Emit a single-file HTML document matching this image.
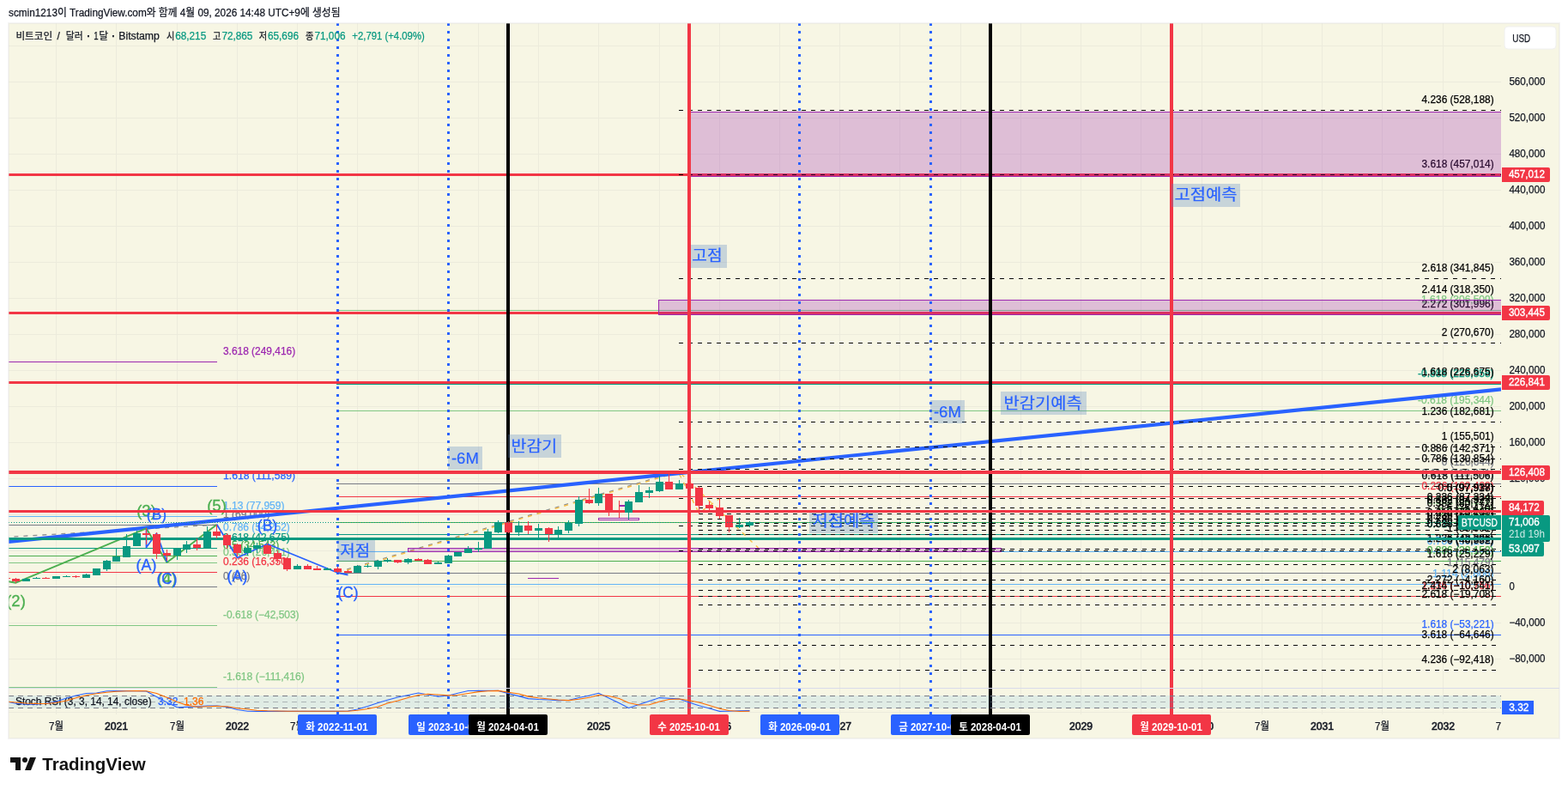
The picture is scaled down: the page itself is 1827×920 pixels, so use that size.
<!DOCTYPE html>
<html lang="ko"><head><meta charset="utf-8"><title>BTCUSD chart</title>
<style>
html,body{margin:0;padding:0;background:#fff;}
body{width:1827px;height:920px;overflow:hidden;}
svg{display:block;font-family:"Liberation Sans","Noto Sans CJK KR",sans-serif;}
svg text{white-space:pre;}
</style></head><body>
<svg width="1827" height="920" viewBox="0 0 1827 920">
<rect x="0" y="0" width="1827" height="920" fill="#ffffff"/>
<rect x="9" y="26" width="1809" height="835" fill="#f4f4f4"/>
<rect x="10" y="27" width="1807" height="833" fill="#f7f6e4"/>
<clipPath id="pane"><rect x="10" y="27" width="1739" height="804"/></clipPath>
<clipPath id="main"><rect x="10" y="27" width="1739" height="774"/></clipPath>
<g shape-rendering="crispEdges">
<rect x="65" y="27" width="1" height="805" fill="#ecebdc"/>
<rect x="135" y="27" width="1" height="805" fill="#ecebdc"/>
<rect x="206" y="27" width="1" height="805" fill="#ecebdc"/>
<rect x="276" y="27" width="1" height="805" fill="#ecebdc"/>
<rect x="346" y="27" width="1" height="805" fill="#ecebdc"/>
<rect x="416" y="27" width="1" height="805" fill="#ecebdc"/>
<rect x="487" y="27" width="1" height="805" fill="#ecebdc"/>
<rect x="557" y="27" width="1" height="805" fill="#ecebdc"/>
<rect x="627" y="27" width="1" height="805" fill="#ecebdc"/>
<rect x="697" y="27" width="1" height="805" fill="#ecebdc"/>
<rect x="768" y="27" width="1" height="805" fill="#ecebdc"/>
<rect x="838" y="27" width="1" height="805" fill="#ecebdc"/>
<rect x="908" y="27" width="1" height="805" fill="#ecebdc"/>
<rect x="978" y="27" width="1" height="805" fill="#ecebdc"/>
<rect x="1048" y="27" width="1" height="805" fill="#ecebdc"/>
<rect x="1119" y="27" width="1" height="805" fill="#ecebdc"/>
<rect x="1189" y="27" width="1" height="805" fill="#ecebdc"/>
<rect x="1259" y="27" width="1" height="805" fill="#ecebdc"/>
<rect x="1329" y="27" width="1" height="805" fill="#ecebdc"/>
<rect x="1400" y="27" width="1" height="805" fill="#ecebdc"/>
<rect x="1470" y="27" width="1" height="805" fill="#ecebdc"/>
<rect x="1540" y="27" width="1" height="805" fill="#ecebdc"/>
<rect x="1610" y="27" width="1" height="805" fill="#ecebdc"/>
<rect x="1681" y="27" width="1" height="805" fill="#ecebdc"/>
<rect x="10" y="767" width="1739" height="1" fill="#ecebdc"/>
<rect x="10" y="725" width="1739" height="1" fill="#ecebdc"/>
<rect x="10" y="683" width="1739" height="1" fill="#ecebdc"/>
<rect x="10" y="641" width="1739" height="1" fill="#ecebdc"/>
<rect x="10" y="599" width="1739" height="1" fill="#ecebdc"/>
<rect x="10" y="557" width="1739" height="1" fill="#ecebdc"/>
<rect x="10" y="515" width="1739" height="1" fill="#ecebdc"/>
<rect x="10" y="473" width="1739" height="1" fill="#ecebdc"/>
<rect x="10" y="431" width="1739" height="1" fill="#ecebdc"/>
<rect x="10" y="389" width="1739" height="1" fill="#ecebdc"/>
<rect x="10" y="347" width="1739" height="1" fill="#ecebdc"/>
<rect x="10" y="305" width="1739" height="1" fill="#ecebdc"/>
<rect x="10" y="263" width="1739" height="1" fill="#ecebdc"/>
<rect x="10" y="221" width="1739" height="1" fill="#ecebdc"/>
<rect x="10" y="179" width="1739" height="1" fill="#ecebdc"/>
<rect x="10" y="137" width="1739" height="1" fill="#ecebdc"/>
<rect x="10" y="95" width="1739" height="1" fill="#ecebdc"/>
<rect x="10" y="53" width="1739" height="1" fill="#ecebdc"/>
<rect x="10" y="829" width="1739" height="1" fill="#ecebdc"/>
</g>
<g clip-path="url(#main)">
<g shape-rendering="crispEdges">
<rect x="10" y="421" width="243" height="1" fill="#9c27b0"/>
<rect x="10" y="566" width="243" height="1" fill="#2962ff"/>
<rect x="10" y="601" width="243" height="1" fill="#64b5f6"/>
<rect x="10" y="611" width="243" height="1" fill="#787b86"/>
<rect x="10" y="626" width="243" height="1" fill="#64b5f6"/>
<rect x="10" y="638" width="243" height="1" fill="#089981"/>
<rect x="10" y="647" width="243" height="1" fill="#4caf50"/>
<rect x="10" y="655" width="243" height="1" fill="#81c784"/>
<rect x="10" y="666" width="243" height="1" fill="#f23645"/>
<rect x="10" y="683" width="243" height="1" fill="#787b86"/>
<rect x="10" y="728" width="243" height="1" fill="#81c784"/>
<rect x="10" y="800" width="243" height="1" fill="#81c784"/>
</g>
<text x="260" y="412.7" font-size="12" fill="#9c27b0" textLength="84.1" lengthAdjust="spacingAndGlyphs" stroke="#9c27b0" stroke-width="0.25">3.618 (249,416)</text>
<text x="260" y="557.7" font-size="12" fill="#2962ff" textLength="84.1" lengthAdjust="spacingAndGlyphs" stroke="#2962ff" stroke-width="0.25">1.618 (111,589)</text>
<text x="260" y="592.7" font-size="12" fill="#64b5f6" textLength="71.5" lengthAdjust="spacingAndGlyphs" stroke="#64b5f6" stroke-width="0.25">1.13 (77,959)</text>
<text x="260" y="602.7" font-size="12" fill="#787b86" textLength="54.6" lengthAdjust="spacingAndGlyphs" stroke="#787b86" stroke-width="0.25">1 (69,000)</text>
<text x="260" y="617.7" font-size="12" fill="#64b5f6" textLength="77.8" lengthAdjust="spacingAndGlyphs" stroke="#64b5f6" stroke-width="0.25">0.786 (54,252)</text>
<text x="260" y="629.7" font-size="12" fill="#089981" textLength="77.8" lengthAdjust="spacingAndGlyphs" stroke="#089981" stroke-width="0.25">0.618 (42,675)</text>
<text x="260" y="638.7" font-size="12" fill="#4caf50" textLength="65.2" lengthAdjust="spacingAndGlyphs" stroke="#4caf50" stroke-width="0.25">0.5 (34,543)</text>
<text x="260" y="646.7" font-size="12" fill="#81c784" textLength="77.8" lengthAdjust="spacingAndGlyphs" stroke="#81c784" stroke-width="0.25">0.382 (26,411)</text>
<text x="260" y="657.7" font-size="12" fill="#f23645" textLength="77.8" lengthAdjust="spacingAndGlyphs" stroke="#f23645" stroke-width="0.25">0.236 (16,350)</text>
<text x="260" y="674.7" font-size="12" fill="#787b86" textLength="31.3" lengthAdjust="spacingAndGlyphs" stroke="#787b86" stroke-width="0.25">0 (86)</text>
<text x="260" y="719.7" font-size="12" fill="#81c784" textLength="88.5" lengthAdjust="spacingAndGlyphs" stroke="#81c784" stroke-width="0.25">-0.618 (−42,503)</text>
<text x="260" y="791.7" font-size="12" fill="#81c784" textLength="94.8" lengthAdjust="spacingAndGlyphs" stroke="#81c784" stroke-width="0.25">-1.618 (−111,416)</text>
<line x1="10" y1="625.3" x2="252.5" y2="611.0799999999999" stroke="#787b86" stroke-opacity="0.85" stroke-width="1.3" stroke-dasharray="5 6" stroke-dashoffset="4.6"/>
<g shape-rendering="crispEdges">
<rect x="392" y="361" width="1357" height="1" fill="#81c784"/>
<rect x="392" y="447" width="1357" height="1" fill="#089981"/>
<rect x="392" y="478" width="1357" height="1" fill="#81c784"/>
<rect x="392" y="550" width="1357" height="1" fill="#787b86"/>
<rect x="392" y="563" width="1357" height="1" fill="#787b86"/>
<rect x="392" y="578" width="1357" height="1" fill="#f23645"/>
<rect x="392" y="595" width="1357" height="1" fill="#81c784"/>
<rect x="392" y="608" width="1357" height="1" fill="#4caf50"/>
<rect x="392" y="622" width="1357" height="1" fill="#089981"/>
<rect x="392" y="642" width="1357" height="1" fill="#64b5f6"/>
<rect x="392" y="653" width="1357" height="1" fill="#4caf50"/>
<rect x="392" y="667" width="1357" height="1" fill="#787b86"/>
<rect x="392" y="680" width="1357" height="1" fill="#64b5f6"/>
<rect x="392" y="694" width="1357" height="1" fill="#f23645"/>
<rect x="392" y="739" width="1357" height="1" fill="#2962ff"/>
</g>
<text x="1740.6" y="352.7" font-size="12" fill="#81c784" text-anchor="end" textLength="88.5" lengthAdjust="spacingAndGlyphs" stroke="#81c784" stroke-width="0.25">-1.618 (306,509)</text>
<text x="1740.6" y="438.7" font-size="12" fill="#089981" text-anchor="end" textLength="88.5" lengthAdjust="spacingAndGlyphs" stroke="#089981" stroke-width="0.25">-0.888 (225,358)</text>
<text x="1740.6" y="469.7" font-size="12" fill="#81c784" text-anchor="end" textLength="88.5" lengthAdjust="spacingAndGlyphs" stroke="#81c784" stroke-width="0.25">-0.618 (195,344)</text>
<text x="1740.6" y="541.7" font-size="12" fill="#787b86" text-anchor="end" textLength="60.8" lengthAdjust="spacingAndGlyphs" stroke="#787b86" stroke-width="0.25">0 (126,644)</text>
<text x="1740.6" y="554.7" font-size="12" fill="#787b86" text-anchor="end" textLength="84.1" lengthAdjust="spacingAndGlyphs" stroke="#787b86" stroke-width="0.25">0.114 (113,971)</text>
<text x="1740.6" y="569.7" font-size="12" fill="#f23645" text-anchor="end" textLength="84.1" lengthAdjust="spacingAndGlyphs" stroke="#f23645" stroke-width="0.25">0.236 (100,409)</text>
<text x="1740.6" y="586.7" font-size="12" fill="#81c784" text-anchor="end" textLength="77.8" lengthAdjust="spacingAndGlyphs" stroke="#81c784" stroke-width="0.25">0.382 (84,179)</text>
<text x="1740.6" y="599.7" font-size="12" fill="#4caf50" text-anchor="end" textLength="65.2" lengthAdjust="spacingAndGlyphs" stroke="#4caf50" stroke-width="0.25">0.5 (71,062)</text>
<text x="1740.6" y="613.7" font-size="12" fill="#089981" text-anchor="end" textLength="77.8" lengthAdjust="spacingAndGlyphs" stroke="#089981" stroke-width="0.25">0.618 (57,944)</text>
<text x="1740.6" y="633.7" font-size="12" fill="#64b5f6" text-anchor="end" textLength="77.8" lengthAdjust="spacingAndGlyphs" stroke="#64b5f6" stroke-width="0.25">0.786 (39,268)</text>
<text x="1740.6" y="644.7" font-size="12" fill="#4caf50" text-anchor="end" textLength="77.8" lengthAdjust="spacingAndGlyphs" stroke="#4caf50" stroke-width="0.25">0.886 (28,152)</text>
<text x="1740.6" y="658.7" font-size="12" fill="#787b86" text-anchor="end" textLength="54.6" lengthAdjust="spacingAndGlyphs" stroke="#787b86" stroke-width="0.25">1 (15,479)</text>
<text x="1740.6" y="671.7" font-size="12" fill="#64b5f6" text-anchor="end" textLength="71.5" lengthAdjust="spacingAndGlyphs" stroke="#64b5f6" stroke-width="0.25">1.114 (2,806)</text>
<text x="1740.6" y="685.7" font-size="12" fill="#f23645" text-anchor="end" textLength="84.1" lengthAdjust="spacingAndGlyphs" stroke="#f23645" stroke-width="0.25">1.236 (−10,756)</text>
<text x="1740.6" y="730.7" font-size="12" fill="#2962ff" text-anchor="end" textLength="84.1" lengthAdjust="spacingAndGlyphs" stroke="#2962ff" stroke-width="0.25">1.618 (−53,221)</text>
<line x1="393.5" y1="666.2" x2="791.5" y2="548.4" stroke="#787b86" stroke-opacity="0.85" stroke-width="1.3" stroke-dasharray="5 6"/>
<text x="1740.6" y="632.7" font-size="12" fill="#000000" text-anchor="end" textLength="54.6" lengthAdjust="spacingAndGlyphs" stroke="#000000" stroke-width="0.25">0 (40,332)</text>
<text x="1740.6" y="603.7" font-size="12" fill="#000000" text-anchor="end" textLength="77.8" lengthAdjust="spacingAndGlyphs" stroke="#000000" stroke-width="0.25">0.236 (67,512)</text>
<text x="1740.6" y="585.7" font-size="12" fill="#000000" text-anchor="end" textLength="77.8" lengthAdjust="spacingAndGlyphs" stroke="#000000" stroke-width="0.25">0.382 (84,327)</text>
<text x="1740.6" y="571.7" font-size="12" fill="#000000" text-anchor="end" textLength="65.2" lengthAdjust="spacingAndGlyphs" stroke="#000000" stroke-width="0.25">0.5 (97,917)</text>
<text x="1740.6" y="557.7" font-size="12" fill="#000000" text-anchor="end" textLength="84.1" lengthAdjust="spacingAndGlyphs" stroke="#000000" stroke-width="0.25">0.618 (111,506)</text>
<text x="1740.6" y="537.7" font-size="12" fill="#000000" text-anchor="end" textLength="84.1" lengthAdjust="spacingAndGlyphs" stroke="#000000" stroke-width="0.25">0.786 (130,854)</text>
<text x="1740.6" y="525.7" font-size="12" fill="#000000" text-anchor="end" textLength="84.1" lengthAdjust="spacingAndGlyphs" stroke="#000000" stroke-width="0.25">0.886 (142,371)</text>
<text x="1740.6" y="511.7" font-size="12" fill="#000000" text-anchor="end" textLength="60.8" lengthAdjust="spacingAndGlyphs" stroke="#000000" stroke-width="0.25">1 (155,501)</text>
<text x="1740.6" y="482.7" font-size="12" fill="#000000" text-anchor="end" textLength="84.1" lengthAdjust="spacingAndGlyphs" stroke="#000000" stroke-width="0.25">1.236 (182,681)</text>
<text x="1740.6" y="436.7" font-size="12" fill="#000000" text-anchor="end" textLength="84.1" lengthAdjust="spacingAndGlyphs" stroke="#000000" stroke-width="0.25">1.618 (226,675)</text>
<text x="1740.6" y="390.7" font-size="12" fill="#000000" text-anchor="end" textLength="60.8" lengthAdjust="spacingAndGlyphs" stroke="#000000" stroke-width="0.25">2 (270,670)</text>
<text x="1740.6" y="357.7" font-size="12" fill="#000000" text-anchor="end" textLength="84.1" lengthAdjust="spacingAndGlyphs" stroke="#000000" stroke-width="0.25">2.272 (301,996)</text>
<text x="1740.6" y="340.7" font-size="12" fill="#000000" text-anchor="end" textLength="84.1" lengthAdjust="spacingAndGlyphs" stroke="#000000" stroke-width="0.25">2.414 (318,350)</text>
<text x="1740.6" y="315.7" font-size="12" fill="#000000" text-anchor="end" textLength="84.1" lengthAdjust="spacingAndGlyphs" stroke="#000000" stroke-width="0.25">2.618 (341,845)</text>
<text x="1740.6" y="194.7" font-size="12" fill="#000000" text-anchor="end" textLength="84.1" lengthAdjust="spacingAndGlyphs" stroke="#000000" stroke-width="0.25">3.618 (457,014)</text>
<text x="1740.6" y="119.7" font-size="12" fill="#000000" text-anchor="end" textLength="84.1" lengthAdjust="spacingAndGlyphs" stroke="#000000" stroke-width="0.25">4.236 (528,188)</text>
<text x="1740.6" y="571.7" font-size="12" fill="#000000" text-anchor="end" textLength="54.6" lengthAdjust="spacingAndGlyphs" stroke="#000000" stroke-width="0.25">0 (97,938)</text>
<text x="1740.6" y="582.7" font-size="12" fill="#000000" text-anchor="end" textLength="77.8" lengthAdjust="spacingAndGlyphs" stroke="#000000" stroke-width="0.25">0.236 (87,334)</text>
<text x="1740.6" y="589.7" font-size="12" fill="#000000" text-anchor="end" textLength="77.8" lengthAdjust="spacingAndGlyphs" stroke="#000000" stroke-width="0.25">0.382 (80,772)</text>
<text x="1740.6" y="595.7" font-size="12" fill="#000000" text-anchor="end" textLength="65.2" lengthAdjust="spacingAndGlyphs" stroke="#000000" stroke-width="0.25">0.5 (75,470)</text>
<text x="1740.6" y="600.7" font-size="12" fill="#000000" text-anchor="end" textLength="77.8" lengthAdjust="spacingAndGlyphs" stroke="#000000" stroke-width="0.25">0.618 (70,167)</text>
<text x="1740.6" y="608.7" font-size="12" fill="#000000" text-anchor="end" textLength="77.8" lengthAdjust="spacingAndGlyphs" stroke="#000000" stroke-width="0.25">0.786 (62,618)</text>
<text x="1740.6" y="613.7" font-size="12" fill="#000000" text-anchor="end" textLength="77.8" lengthAdjust="spacingAndGlyphs" stroke="#000000" stroke-width="0.25">0.886 (58,124)</text>
<text x="1740.6" y="618.7" font-size="12" fill="#000000" text-anchor="end" textLength="54.6" lengthAdjust="spacingAndGlyphs" stroke="#000000" stroke-width="0.25">1 (53,001)</text>
<text x="1740.6" y="630.7" font-size="12" fill="#000000" text-anchor="end" textLength="77.8" lengthAdjust="spacingAndGlyphs" stroke="#000000" stroke-width="0.25">1.236 (42,396)</text>
<text x="1740.6" y="648.7" font-size="12" fill="#000000" text-anchor="end" textLength="77.8" lengthAdjust="spacingAndGlyphs" stroke="#000000" stroke-width="0.25">1.618 (25,229)</text>
<text x="1740.6" y="666.7" font-size="12" fill="#000000" text-anchor="end" textLength="48.3" lengthAdjust="spacingAndGlyphs" stroke="#000000" stroke-width="0.25">2 (8,063)</text>
<text x="1740.6" y="678.7" font-size="12" fill="#000000" text-anchor="end" textLength="77.8" lengthAdjust="spacingAndGlyphs" stroke="#000000" stroke-width="0.25">2.272 (−4,160)</text>
<text x="1740.6" y="685.7" font-size="12" fill="#000000" text-anchor="end" textLength="84.1" lengthAdjust="spacingAndGlyphs" stroke="#000000" stroke-width="0.25">2.414 (−10,541)</text>
<text x="1740.6" y="695.7" font-size="12" fill="#000000" text-anchor="end" textLength="84.1" lengthAdjust="spacingAndGlyphs" stroke="#000000" stroke-width="0.25">2.618 (−19,708)</text>
<text x="1740.6" y="742.7" font-size="12" fill="#000000" text-anchor="end" textLength="84.1" lengthAdjust="spacingAndGlyphs" stroke="#000000" stroke-width="0.25">3.618 (−64,646)</text>
<text x="1740.6" y="771.7" font-size="12" fill="#000000" text-anchor="end" textLength="84.1" lengthAdjust="spacingAndGlyphs" stroke="#000000" stroke-width="0.25">4.236 (−92,418)</text>
<polyline points="393.5,667.2 791.5,549.6 885.5,640" fill="none" stroke="#f9bf45" stroke-width="1.4" stroke-dasharray="5 6"/>
<polyline points="791.5,552 814.5,597.5 838.5,580.5" fill="none" stroke="#f9bf45" stroke-width="1.4" stroke-dasharray="5 6"/>
<line x1="10" y1="630.9" x2="1749" y2="453.4" stroke="#2962ff" stroke-width="4.2"/>
<polyline points="10,677.2 18.5,678.7 170.5,615.4 194.5,655 252.5,611" fill="none" stroke="#4caf50" stroke-width="2" stroke-linejoin="round"/>
<polyline points="170.5,616 170.5,637.5 182.5,621 194.5,654.5" fill="none" stroke="#2962ff" stroke-width="1.8" stroke-linejoin="round"/>
<polyline points="252.5,610.5 276.5,649.5 311.5,633.5 393.5,667 405.5,669.5" fill="none" stroke="#2962ff" stroke-width="1.8" stroke-linejoin="round"/>
<g shape-rendering="crispEdges">
<rect x="475.5" y="638.5" width="691" height="4" fill="rgba(156,39,176,0.27)" stroke="#9c27b0" stroke-width="1"/>
</g>
<g shape-rendering="crispEdges">
<rect x="10" y="202" width="1739" height="3" fill="#f23645"/>
<rect x="10" y="363" width="1739" height="3" fill="#f23645"/>
</g>
<g shape-rendering="crispEdges">
<line x1="791" x2="1749" y1="641.5" y2="641.5" stroke="#000000" stroke-width="1" stroke-dasharray="5 6"/>
<line x1="791" x2="1749" y1="612.5" y2="612.5" stroke="#000000" stroke-width="1" stroke-dasharray="5 6"/>
<line x1="791" x2="1749" y1="594.5" y2="594.5" stroke="#000000" stroke-width="1" stroke-dasharray="5 6"/>
<line x1="791" x2="1749" y1="580.5" y2="580.5" stroke="#000000" stroke-width="1" stroke-dasharray="5 6"/>
<line x1="791" x2="1749" y1="566.5" y2="566.5" stroke="#000000" stroke-width="1" stroke-dasharray="5 6"/>
<line x1="791" x2="1749" y1="546.5" y2="546.5" stroke="#000000" stroke-width="1" stroke-dasharray="5 6"/>
<line x1="791" x2="1749" y1="534.5" y2="534.5" stroke="#000000" stroke-width="1" stroke-dasharray="5 6"/>
<line x1="791" x2="1749" y1="520.5" y2="520.5" stroke="#000000" stroke-width="1" stroke-dasharray="5 6"/>
<line x1="791" x2="1749" y1="491.5" y2="491.5" stroke="#000000" stroke-width="1" stroke-dasharray="5 6"/>
<line x1="791" x2="1749" y1="445.5" y2="445.5" stroke="#000000" stroke-width="1" stroke-dasharray="5 6"/>
<line x1="791" x2="1749" y1="399.5" y2="399.5" stroke="#000000" stroke-width="1" stroke-dasharray="5 6"/>
<line x1="791" x2="1749" y1="366.5" y2="366.5" stroke="#000000" stroke-width="1" stroke-dasharray="5 6"/>
<line x1="791" x2="1749" y1="349.5" y2="349.5" stroke="#000000" stroke-width="1" stroke-dasharray="5 6"/>
<line x1="791" x2="1749" y1="324.5" y2="324.5" stroke="#000000" stroke-width="1" stroke-dasharray="5 6"/>
<line x1="791" x2="1749" y1="203.5" y2="203.5" stroke="#000000" stroke-width="1" stroke-dasharray="5 6"/>
<line x1="791" x2="1749" y1="128.5" y2="128.5" stroke="#000000" stroke-width="1" stroke-dasharray="5 6"/>
<line x1="814" x2="1749" y1="580.5" y2="580.5" stroke="#000000" stroke-width="1" stroke-dasharray="5 6"/>
<line x1="814" x2="1749" y1="591.5" y2="591.5" stroke="#000000" stroke-width="1" stroke-dasharray="5 6"/>
<line x1="814" x2="1749" y1="598.5" y2="598.5" stroke="#000000" stroke-width="1" stroke-dasharray="5 6"/>
<line x1="814" x2="1749" y1="604.5" y2="604.5" stroke="#000000" stroke-width="1" stroke-dasharray="5 6"/>
<line x1="814" x2="1749" y1="609.5" y2="609.5" stroke="#000000" stroke-width="1" stroke-dasharray="5 6"/>
<line x1="814" x2="1749" y1="617.5" y2="617.5" stroke="#000000" stroke-width="1" stroke-dasharray="5 6"/>
<line x1="814" x2="1749" y1="622.5" y2="622.5" stroke="#000000" stroke-width="1" stroke-dasharray="5 6"/>
<line x1="814" x2="1749" y1="627.5" y2="627.5" stroke="#000000" stroke-width="1" stroke-dasharray="5 6"/>
<line x1="814" x2="1749" y1="639.5" y2="639.5" stroke="#000000" stroke-width="1" stroke-dasharray="5 6"/>
<line x1="814" x2="1749" y1="657.5" y2="657.5" stroke="#000000" stroke-width="1" stroke-dasharray="5 6"/>
<line x1="814" x2="1749" y1="675.5" y2="675.5" stroke="#000000" stroke-width="1" stroke-dasharray="5 6"/>
<line x1="814" x2="1749" y1="687.5" y2="687.5" stroke="#000000" stroke-width="1" stroke-dasharray="5 6"/>
<line x1="814" x2="1749" y1="694.5" y2="694.5" stroke="#000000" stroke-width="1" stroke-dasharray="5 6"/>
<line x1="814" x2="1749" y1="704.5" y2="704.5" stroke="#000000" stroke-width="1" stroke-dasharray="5 6"/>
<line x1="814" x2="1749" y1="751.5" y2="751.5" stroke="#000000" stroke-width="1" stroke-dasharray="5 6"/>
<line x1="814" x2="1749" y1="780.5" y2="780.5" stroke="#000000" stroke-width="1" stroke-dasharray="5 6"/>
</g>
<g shape-rendering="crispEdges">
<rect x="10" y="626" width="1739" height="3" fill="#089981"/>
</g>
<text x="18.5" y="705.8" font-size="18" fill="#4caf50" text-anchor="middle" textLength="22.6" lengthAdjust="spacingAndGlyphs" stroke="#4caf50" stroke-width="0.3">(2)</text>
<text x="170.5" y="600.8" font-size="18" fill="#4caf50" text-anchor="middle" textLength="22.6" lengthAdjust="spacingAndGlyphs" stroke="#4caf50" stroke-width="0.3">(3)</text>
<text x="194.5" y="680.3" font-size="18" fill="#4caf50" text-anchor="middle" textLength="22.6" lengthAdjust="spacingAndGlyphs" stroke="#4caf50" stroke-width="0.3">(4)</text>
<text x="252.5" y="595.3" font-size="18" fill="#4caf50" text-anchor="middle" textLength="22.6" lengthAdjust="spacingAndGlyphs" stroke="#4caf50" stroke-width="0.3">(5)</text>
<text x="170.5" y="663.8" font-size="18" fill="#2962ff" text-anchor="middle" textLength="23.8" lengthAdjust="spacingAndGlyphs" stroke="#2962ff" stroke-width="0.3">(A)</text>
<text x="182.5" y="605.3" font-size="18" fill="#2962ff" text-anchor="middle" textLength="23.4" lengthAdjust="spacingAndGlyphs" stroke="#2962ff" stroke-width="0.3">(B)</text>
<text x="194.5" y="680.3" font-size="18" fill="#2962ff" text-anchor="middle" textLength="24.0" lengthAdjust="spacingAndGlyphs" stroke="#2962ff" stroke-width="0.3">(C)</text>
<text x="276.5" y="676.8" font-size="18" fill="#2962ff" text-anchor="middle" textLength="23.8" lengthAdjust="spacingAndGlyphs" stroke="#2962ff" stroke-width="0.3">(A)</text>
<text x="311.5" y="617.8" font-size="18" fill="#2962ff" text-anchor="middle" textLength="23.4" lengthAdjust="spacingAndGlyphs" stroke="#2962ff" stroke-width="0.3">(B)</text>
<text x="405.5" y="696.0999999999999" font-size="18" fill="#2962ff" text-anchor="middle" textLength="24.0" lengthAdjust="spacingAndGlyphs" stroke="#2962ff" stroke-width="0.3">(C)</text>
<g shape-rendering="crispEdges">
<rect x="10" y="444" width="1739" height="3" fill="#f23645"/>
</g>
<g shape-rendering="crispEdges">
<rect x="803.5" y="130.5" width="956" height="75" fill="rgba(156,39,176,0.27)" stroke="#9c27b0" stroke-width="1"/>
<rect x="767.5" y="349.5" width="992" height="17" fill="rgba(156,39,176,0.27)" stroke="#9c27b0" stroke-width="1"/>
<rect x="697.5" y="603.5" width="47" height="2" fill="none" stroke="#9c27b0" stroke-width="1"/>
<rect x="722" y="588" width="7" height="2" fill="#9c27b0"/>
<rect x="615" y="673" width="36" height="1" fill="#9c27b0"/>
</g>
</g>
<g shape-rendering="crispEdges">
<line x1="393.5" x2="393.5" y1="27" y2="801" stroke="#2962ff" stroke-width="3" stroke-dasharray="3 6"/>
<line x1="393.5" x2="393.5" y1="802" y2="832" stroke="#2962ff" stroke-width="3" stroke-dasharray="3 6"/>
<line x1="522.5" x2="522.5" y1="27" y2="801" stroke="#2962ff" stroke-width="3" stroke-dasharray="3 6"/>
<line x1="522.5" x2="522.5" y1="802" y2="832" stroke="#2962ff" stroke-width="3" stroke-dasharray="3 6"/>
<line x1="931.5" x2="931.5" y1="27" y2="801" stroke="#2962ff" stroke-width="3" stroke-dasharray="3 6"/>
<line x1="931.5" x2="931.5" y1="802" y2="832" stroke="#2962ff" stroke-width="3" stroke-dasharray="3 6"/>
<line x1="1084.5" x2="1084.5" y1="27" y2="801" stroke="#2962ff" stroke-width="3" stroke-dasharray="3 6"/>
<line x1="1084.5" x2="1084.5" y1="802" y2="832" stroke="#2962ff" stroke-width="3" stroke-dasharray="3 6"/>
<rect x="590" y="27" width="4" height="805" fill="#000000"/>
<rect x="1152" y="27" width="4" height="805" fill="#000000"/>
<rect x="801" y="27" width="4" height="805" fill="#f23645"/>
<rect x="1363" y="27" width="4" height="805" fill="#f23645"/>
</g>
<g shape-rendering="crispEdges">
<rect x="10" y="801" width="1807" height="1" fill="#d9dbea"/>
<rect x="10" y="810" width="1739" height="15" fill="rgba(33,150,243,0.10)"/>
<line x1="10" x2="1749" y1="810.5" y2="810.5" stroke="#787b86" stroke-dasharray="6 5"/>
<line x1="10" x2="1749" y1="817.5" y2="817.5" stroke="#787b86" stroke-opacity="0.5" stroke-dasharray="6 5"/>
<line x1="10" x2="1749" y1="824.5" y2="824.5" stroke="#787b86" stroke-dasharray="6 5"/>
</g>
<rect x="805" y="285" width="42" height="27" fill="rgba(91,133,191,0.3)" shape-rendering="crispEdges"/>
<text x="806.3" y="304.4" font-size="18.6" fill="#2962ff" textLength="35.3" lengthAdjust="spacingAndGlyphs" stroke="#2962ff" stroke-width="0.2">고점</text>
<rect x="1365" y="214" width="80" height="27" fill="rgba(91,133,191,0.3)" shape-rendering="crispEdges"/>
<text x="1368.4" y="233.4" font-size="18.6" fill="#2962ff" textLength="73.1" lengthAdjust="spacingAndGlyphs" stroke="#2962ff" stroke-width="0.2">고점예측</text>
<rect x="522" y="520" width="40" height="27" fill="rgba(91,133,191,0.3)" shape-rendering="crispEdges"/>
<text x="525.9" y="539.6" font-size="19" fill="#2962ff" textLength="32" lengthAdjust="spacingAndGlyphs" stroke="#2962ff" stroke-width="0.2">-6M</text>
<rect x="592" y="506" width="62" height="27" fill="rgba(91,133,191,0.3)" shape-rendering="crispEdges"/>
<text x="595.6" y="525.6999999999999" font-size="18.6" fill="#2962ff" textLength="53.6" lengthAdjust="spacingAndGlyphs" stroke="#2962ff" stroke-width="0.2">반감기</text>
<rect x="1084" y="466" width="40" height="27" fill="rgba(91,133,191,0.3)" shape-rendering="crispEdges"/>
<text x="1087.9" y="485.59999999999997" font-size="19" fill="#2962ff" textLength="32" lengthAdjust="spacingAndGlyphs" stroke="#2962ff" stroke-width="0.2">-6M</text>
<rect x="1166" y="456" width="100" height="27" fill="rgba(91,133,191,0.3)" shape-rendering="crispEdges"/>
<text x="1169.6" y="475.7" font-size="18.6" fill="#2962ff" textLength="91.2" lengthAdjust="spacingAndGlyphs" stroke="#2962ff" stroke-width="0.2">반감기예측</text>
<rect x="393" y="629" width="44" height="25" fill="rgba(91,133,191,0.3)" shape-rendering="crispEdges"/>
<text x="396.3" y="647.6999999999999" font-size="18.6" fill="#2962ff" textLength="34.7" lengthAdjust="spacingAndGlyphs" stroke="#2962ff" stroke-width="0.2">저점</text>
<rect x="943" y="594" width="80" height="27" fill="rgba(91,133,191,0.3)" shape-rendering="crispEdges"/>
<text x="946.4" y="613.4" font-size="18.6" fill="#2962ff" textLength="73.1" lengthAdjust="spacingAndGlyphs" stroke="#2962ff" stroke-width="0.2">저점예측</text>
<g clip-path="url(#main)">
<g shape-rendering="crispEdges">
<rect x="10" y="548" width="1739" height="4" fill="#f23645"/>
<rect x="10" y="594" width="1739" height="3" fill="#f23645"/>
</g>
<g shape-rendering="crispEdges">
<rect x="7" y="672" width="1" height="2" fill="#f23645"/>
<rect x="3" y="673" width="9" height="1" fill="#f23645"/>
<rect x="18" y="673" width="1" height="6" fill="#f23645"/>
<rect x="14" y="674" width="9" height="3" fill="#f23645"/>
<rect x="30" y="673" width="1" height="4" fill="#089981"/>
<rect x="26" y="674" width="9" height="3" fill="#089981"/>
<rect x="42" y="672" width="1" height="2" fill="#089981"/>
<rect x="38" y="673" width="9" height="1" fill="#089981"/>
<rect x="53" y="672" width="1" height="2" fill="#f23645"/>
<rect x="49" y="673" width="9" height="1" fill="#f23645"/>
<rect x="65" y="671" width="1" height="3" fill="#089981"/>
<rect x="61" y="671" width="9" height="3" fill="#089981"/>
<rect x="77" y="670" width="1" height="2" fill="#089981"/>
<rect x="73" y="671" width="9" height="1" fill="#089981"/>
<rect x="88" y="670" width="1" height="3" fill="#f23645"/>
<rect x="84" y="671" width="9" height="1" fill="#f23645"/>
<rect x="100" y="668" width="1" height="5" fill="#089981"/>
<rect x="96" y="669" width="9" height="4" fill="#089981"/>
<rect x="112" y="662" width="1" height="8" fill="#089981"/>
<rect x="108" y="662" width="9" height="8" fill="#089981"/>
<rect x="124" y="652" width="1" height="13" fill="#089981"/>
<rect x="120" y="653" width="9" height="10" fill="#089981"/>
<rect x="135" y="639" width="1" height="15" fill="#089981"/>
<rect x="131" y="648" width="9" height="6" fill="#089981"/>
<rect x="147" y="622" width="1" height="27" fill="#089981"/>
<rect x="143" y="636" width="9" height="13" fill="#089981"/>
<rect x="159" y="618" width="1" height="18" fill="#089981"/>
<rect x="155" y="621" width="9" height="15" fill="#089981"/>
<rect x="170" y="615" width="1" height="19" fill="#f23645"/>
<rect x="166" y="621" width="9" height="2" fill="#f23645"/>
<rect x="182" y="620" width="1" height="31" fill="#f23645"/>
<rect x="178" y="622" width="9" height="23" fill="#f23645"/>
<rect x="194" y="640" width="1" height="13" fill="#f23645"/>
<rect x="190" y="644" width="9" height="3" fill="#f23645"/>
<rect x="206" y="639" width="1" height="13" fill="#089981"/>
<rect x="202" y="639" width="9" height="8" fill="#089981"/>
<rect x="217" y="630" width="1" height="14" fill="#089981"/>
<rect x="213" y="634" width="9" height="6" fill="#089981"/>
<rect x="229" y="627" width="1" height="14" fill="#f23645"/>
<rect x="225" y="634" width="9" height="4" fill="#f23645"/>
<rect x="241" y="613" width="1" height="25" fill="#089981"/>
<rect x="237" y="619" width="9" height="19" fill="#089981"/>
<rect x="252" y="611" width="1" height="16" fill="#f23645"/>
<rect x="248" y="619" width="9" height="5" fill="#f23645"/>
<rect x="264" y="621" width="1" height="18" fill="#f23645"/>
<rect x="260" y="623" width="9" height="12" fill="#f23645"/>
<rect x="276" y="633" width="1" height="15" fill="#f23645"/>
<rect x="272" y="634" width="9" height="10" fill="#f23645"/>
<rect x="288" y="635" width="1" height="12" fill="#089981"/>
<rect x="284" y="638" width="9" height="6" fill="#089981"/>
<rect x="299" y="632" width="1" height="12" fill="#089981"/>
<rect x="295" y="635" width="9" height="4" fill="#089981"/>
<rect x="311" y="633" width="1" height="12" fill="#f23645"/>
<rect x="307" y="635" width="9" height="10" fill="#f23645"/>
<rect x="323" y="641" width="1" height="15" fill="#f23645"/>
<rect x="319" y="644" width="9" height="7" fill="#f23645"/>
<rect x="334" y="649" width="1" height="16" fill="#f23645"/>
<rect x="330" y="650" width="9" height="13" fill="#f23645"/>
<rect x="346" y="657" width="1" height="6" fill="#089981"/>
<rect x="342" y="659" width="9" height="4" fill="#089981"/>
<rect x="358" y="657" width="1" height="6" fill="#f23645"/>
<rect x="354" y="659" width="9" height="4" fill="#f23645"/>
<rect x="369" y="659" width="1" height="5" fill="#f23645"/>
<rect x="365" y="662" width="9" height="2" fill="#f23645"/>
<rect x="381" y="661" width="1" height="3" fill="#089981"/>
<rect x="377" y="662" width="9" height="2" fill="#089981"/>
<rect x="393" y="660" width="1" height="7" fill="#f23645"/>
<rect x="389" y="662" width="9" height="4" fill="#f23645"/>
<rect x="405" y="664" width="1" height="3" fill="#f23645"/>
<rect x="401" y="665" width="9" height="2" fill="#f23645"/>
<rect x="416" y="658" width="1" height="9" fill="#089981"/>
<rect x="412" y="659" width="9" height="8" fill="#089981"/>
<rect x="428" y="657" width="1" height="4" fill="#089981"/>
<rect x="424" y="659" width="9" height="1" fill="#089981"/>
<rect x="440" y="652" width="1" height="11" fill="#089981"/>
<rect x="436" y="653" width="9" height="7" fill="#089981"/>
<rect x="451" y="650" width="1" height="5" fill="#089981"/>
<rect x="447" y="652" width="9" height="2" fill="#089981"/>
<rect x="463" y="652" width="1" height="4" fill="#f23645"/>
<rect x="459" y="652" width="9" height="3" fill="#f23645"/>
<rect x="475" y="650" width="1" height="7" fill="#089981"/>
<rect x="471" y="651" width="9" height="4" fill="#089981"/>
<rect x="487" y="650" width="1" height="3" fill="#f23645"/>
<rect x="483" y="651" width="9" height="2" fill="#f23645"/>
<rect x="498" y="651" width="1" height="6" fill="#f23645"/>
<rect x="494" y="652" width="9" height="5" fill="#f23645"/>
<rect x="510" y="654" width="1" height="3" fill="#089981"/>
<rect x="506" y="655" width="9" height="2" fill="#089981"/>
<rect x="522" y="646" width="1" height="10" fill="#089981"/>
<rect x="518" y="647" width="9" height="9" fill="#089981"/>
<rect x="533" y="643" width="1" height="5" fill="#089981"/>
<rect x="529" y="643" width="9" height="5" fill="#089981"/>
<rect x="545" y="636" width="1" height="8" fill="#089981"/>
<rect x="541" y="639" width="9" height="5" fill="#089981"/>
<rect x="557" y="631" width="1" height="12" fill="#089981"/>
<rect x="553" y="638" width="9" height="2" fill="#089981"/>
<rect x="568" y="616" width="1" height="23" fill="#089981"/>
<rect x="564" y="619" width="9" height="20" fill="#089981"/>
<rect x="580" y="606" width="1" height="15" fill="#089981"/>
<rect x="576" y="608" width="9" height="12" fill="#089981"/>
<rect x="592" y="607" width="1" height="14" fill="#f23645"/>
<rect x="588" y="608" width="9" height="12" fill="#f23645"/>
<rect x="604" y="607" width="1" height="17" fill="#089981"/>
<rect x="600" y="612" width="9" height="8" fill="#089981"/>
<rect x="615" y="607" width="1" height="15" fill="#f23645"/>
<rect x="611" y="612" width="9" height="6" fill="#f23645"/>
<rect x="627" y="610" width="1" height="17" fill="#089981"/>
<rect x="623" y="615" width="9" height="3" fill="#089981"/>
<rect x="639" y="614" width="1" height="17" fill="#f23645"/>
<rect x="635" y="615" width="9" height="7" fill="#f23645"/>
<rect x="650" y="613" width="1" height="15" fill="#089981"/>
<rect x="646" y="617" width="9" height="5" fill="#089981"/>
<rect x="662" y="606" width="1" height="15" fill="#089981"/>
<rect x="658" y="609" width="9" height="9" fill="#089981"/>
<rect x="674" y="578" width="1" height="35" fill="#089981"/>
<rect x="670" y="582" width="9" height="28" fill="#089981"/>
<rect x="686" y="569" width="1" height="18" fill="#f23645"/>
<rect x="682" y="582" width="9" height="4" fill="#f23645"/>
<rect x="697" y="568" width="1" height="21" fill="#089981"/>
<rect x="693" y="575" width="9" height="11" fill="#089981"/>
<rect x="709" y="575" width="1" height="26" fill="#f23645"/>
<rect x="705" y="575" width="9" height="20" fill="#f23645"/>
<rect x="721" y="583" width="1" height="20" fill="#f23645"/>
<rect x="717" y="594" width="9" height="3" fill="#f23645"/>
<rect x="732" y="582" width="1" height="23" fill="#089981"/>
<rect x="728" y="584" width="9" height="13" fill="#089981"/>
<rect x="744" y="565" width="1" height="20" fill="#089981"/>
<rect x="740" y="573" width="9" height="12" fill="#089981"/>
<rect x="756" y="567" width="1" height="13" fill="#089981"/>
<rect x="752" y="571" width="9" height="3" fill="#089981"/>
<rect x="768" y="554" width="1" height="19" fill="#089981"/>
<rect x="764" y="561" width="9" height="11" fill="#089981"/>
<rect x="779" y="552" width="1" height="18" fill="#f23645"/>
<rect x="775" y="561" width="9" height="9" fill="#f23645"/>
<rect x="791" y="559" width="1" height="11" fill="#089981"/>
<rect x="787" y="563" width="9" height="7" fill="#089981"/>
<rect x="803" y="551" width="1" height="25" fill="#f23645"/>
<rect x="799" y="563" width="9" height="6" fill="#f23645"/>
<rect x="814" y="566" width="1" height="33" fill="#f23645"/>
<rect x="810" y="568" width="9" height="21" fill="#f23645"/>
<rect x="826" y="584" width="1" height="11" fill="#f23645"/>
<rect x="822" y="588" width="9" height="4" fill="#f23645"/>
<rect x="838" y="580" width="1" height="24" fill="#f23645"/>
<rect x="834" y="591" width="9" height="10" fill="#f23645"/>
<rect x="849" y="600" width="1" height="20" fill="#f23645"/>
<rect x="845" y="600" width="9" height="14" fill="#f23645"/>
<rect x="861" y="603" width="1" height="12" fill="#089981"/>
<rect x="857" y="611" width="9" height="3" fill="#089981"/>
<rect x="873" y="607" width="1" height="7" fill="#089981"/>
<rect x="869" y="608" width="9" height="4" fill="#089981"/>
</g>
<line x1="10" x2="1749" y1="608.5" y2="608.5" stroke="#089981" stroke-width="1" stroke-dasharray="1 2" shape-rendering="crispEdges"/>
</g>
<text x="18" y="820.6" font-size="12" fill="#131722" textLength="158.7" lengthAdjust="spacingAndGlyphs" stroke="#131722" stroke-width="0.25">Stoch RSI (3, 3, 14, 14, close)</text>
<text x="184" y="820.6" font-size="12" fill="#2962ff" textLength="23.3" lengthAdjust="spacingAndGlyphs" stroke="#2962ff" stroke-width="0.25">3.32</text>
<text x="214" y="820.6" font-size="12" fill="#ff6d00" textLength="23.3" lengthAdjust="spacingAndGlyphs" stroke="#ff6d00" stroke-width="0.25">1.36</text>
<polyline points="7.5,817 18.5,819.3 30.5,820.2 42.5,820.2 53.5,819.3 65.5,817 77.5,813 88.5,810 100.5,807.5 112.5,807 124.5,804.8 135.5,804.6 147.5,804.6 159.5,804.6 170.5,805 182.5,811.5 194.5,818 206.5,823.8 217.5,823.4 229.5,822.8 241.5,822 252.5,822 264.5,823.2 276.5,826.5 288.5,828.3 299.5,828.4 311.5,828.4 323.5,828.4 334.5,828.4 346.5,828.4 358.5,828.4 369.5,828.4 381.5,828.4 393.5,828.4 405.5,828 416.5,826 428.5,822.5 440.5,818.5 451.5,815.3 463.5,812 475.5,809.5 487.5,807 498.5,809 510.5,811.1 522.5,810 533.5,807.2 545.5,804.5 557.5,804.4 568.5,804.4 580.5,804.4 592.5,807.6 604.5,810.6 615.5,813.6 627.5,814.5 639.5,815 650.5,815.6 662.5,815.5 674.5,812.5 686.5,810 697.5,807.2 709.5,813 721.5,818.8 732.5,824.6 744.5,820.6 756.5,816.6 768.5,812.6 779.5,813.2 791.5,813.9 803.5,818.3 814.5,821.7 826.5,825 838.5,828.4 849.5,828.2 861.5,827.8 873.5,827.6" fill="none" stroke="#2962ff" stroke-width="1.1" stroke-linejoin="round" clip-path="url(#pane)"/>
<polyline points="7.5,817 18.5,818 30.5,819 42.5,819.4 53.5,819.5 65.5,818.3 77.5,816 88.5,812.7 100.5,809.8 112.5,807.8 124.5,806.2 135.5,805.2 147.5,804.7 159.5,804.6 170.5,804.8 182.5,807.5 194.5,812.3 206.5,817.5 217.5,821.3 229.5,823.3 241.5,822.8 252.5,822.4 264.5,822.8 276.5,824.7 288.5,826 299.5,827.2 311.5,827.8 323.5,828 334.5,828.2 346.5,828.2 358.5,828.2 369.5,828.2 381.5,828.2 393.5,828.2 405.5,828.3 416.5,827.3 428.5,825.5 440.5,823 451.5,819 463.5,816 475.5,812.5 487.5,809.5 498.5,808.2 510.5,809 522.5,809.9 533.5,809.5 545.5,807.5 557.5,805.6 568.5,804.8 580.5,804.4 592.5,806.3 604.5,808 615.5,811.1 627.5,812.8 639.5,814 650.5,815 662.5,815.6 674.5,814.3 686.5,812.3 697.5,809.5 709.5,810.5 721.5,813.5 732.5,818.5 744.5,821 756.5,820.8 768.5,817 779.5,814.5 791.5,814 803.5,815.8 814.5,818 826.5,821.5 838.5,825.2 849.5,827.5 861.5,828.5 873.5,828.3" fill="none" stroke="#ff6d00" stroke-width="1.1" stroke-linejoin="round" clip-path="url(#pane)"/>
<text x="1758.4" y="770.6" font-size="12" fill="#131722" textLength="42.1" lengthAdjust="spacingAndGlyphs" stroke="#131722" stroke-width="0.25">−80,000</text>
<text x="1758.4" y="728.6" font-size="12" fill="#131722" textLength="42.1" lengthAdjust="spacingAndGlyphs" stroke="#131722" stroke-width="0.25">−40,000</text>
<text x="1758.4" y="687.3000000000001" font-size="12" fill="#131722" textLength="6.3" lengthAdjust="spacingAndGlyphs" stroke="#131722" stroke-width="0.25">0</text>
<text x="1758.4" y="518.6" font-size="12" fill="#131722" textLength="42.1" lengthAdjust="spacingAndGlyphs" stroke="#131722" stroke-width="0.25">160,000</text>
<text x="1758.4" y="476.6" font-size="12" fill="#131722" textLength="42.1" lengthAdjust="spacingAndGlyphs" stroke="#131722" stroke-width="0.25">200,000</text>
<text x="1758.4" y="434.6" font-size="12" fill="#131722" textLength="42.1" lengthAdjust="spacingAndGlyphs" stroke="#131722" stroke-width="0.25">240,000</text>
<text x="1758.4" y="392.6" font-size="12" fill="#131722" textLength="42.1" lengthAdjust="spacingAndGlyphs" stroke="#131722" stroke-width="0.25">280,000</text>
<text x="1758.4" y="350.6" font-size="12" fill="#131722" textLength="42.1" lengthAdjust="spacingAndGlyphs" stroke="#131722" stroke-width="0.25">320,000</text>
<text x="1758.4" y="308.6" font-size="12" fill="#131722" textLength="42.1" lengthAdjust="spacingAndGlyphs" stroke="#131722" stroke-width="0.25">360,000</text>
<text x="1758.4" y="266.6" font-size="12" fill="#131722" textLength="42.1" lengthAdjust="spacingAndGlyphs" stroke="#131722" stroke-width="0.25">400,000</text>
<text x="1758.4" y="224.6" font-size="12" fill="#131722" textLength="42.1" lengthAdjust="spacingAndGlyphs" stroke="#131722" stroke-width="0.25">440,000</text>
<text x="1758.4" y="182.6" font-size="12" fill="#131722" textLength="42.1" lengthAdjust="spacingAndGlyphs" stroke="#131722" stroke-width="0.25">480,000</text>
<text x="1758.4" y="140.6" font-size="12" fill="#131722" textLength="42.1" lengthAdjust="spacingAndGlyphs" stroke="#131722" stroke-width="0.25">520,000</text>
<text x="1758.4" y="98.6" font-size="12" fill="#131722" textLength="42.1" lengthAdjust="spacingAndGlyphs" stroke="#131722" stroke-width="0.25">560,000</text>
<text x="1758.4" y="560.6" font-size="12" fill="#131722" textLength="42.1" lengthAdjust="spacingAndGlyphs" stroke="#131722" stroke-width="0.25">120,000</text>
<path d="M1750 542H1804a2 2 0 0 1 2 2V557a2 2 0 0 1 -2 2H1750Z" fill="#f23645"/>
<text x="1757.9" y="553.7" font-size="12" fill="#ffffff" textLength="42.1" lengthAdjust="spacingAndGlyphs" stroke="#ffffff" stroke-width="0.35">126,408</text>
<path d="M1750 195H1804a2 2 0 0 1 2 2V210a2 2 0 0 1 -2 2H1750Z" fill="#f23645"/>
<text x="1757.9" y="206.7" font-size="12" fill="#ffffff" textLength="42.1" lengthAdjust="spacingAndGlyphs" stroke="#ffffff" stroke-width="0.35">457,012</text>
<path d="M1750 356H1804a2 2 0 0 1 2 2V371a2 2 0 0 1 -2 2H1750Z" fill="#f23645"/>
<text x="1757.9" y="367.7" font-size="12" fill="#ffffff" textLength="42.1" lengthAdjust="spacingAndGlyphs" stroke="#ffffff" stroke-width="0.35">303,445</text>
<path d="M1750 437H1804a2 2 0 0 1 2 2V452a2 2 0 0 1 -2 2H1750Z" fill="#f23645"/>
<text x="1757.9" y="448.7" font-size="12" fill="#ffffff" textLength="42.1" lengthAdjust="spacingAndGlyphs" stroke="#ffffff" stroke-width="0.35">226,841</text>
<path d="M1750 583H1797a2 2 0 0 1 2 2V598a2 2 0 0 1 -2 2H1750Z" fill="#f23645"/>
<text x="1757.9" y="594.7" font-size="12" fill="#ffffff" textLength="35.8" lengthAdjust="spacingAndGlyphs" stroke="#ffffff" stroke-width="0.35">84,172</text>
<path d="M1750 631H1797a2 2 0 0 1 2 2V646a2 2 0 0 1 -2 2H1750Z" fill="#089981"/>
<text x="1757.9" y="642.7" font-size="12" fill="#ffffff" textLength="35.8" lengthAdjust="spacingAndGlyphs" stroke="#ffffff" stroke-width="0.35">53,097</text>
<path d="M1750 600H1804a2 2 0 0 1 2 2V629a2 2 0 0 1 -2 2H1750Z" fill="#089981"/>
<text x="1757.9" y="611.7" font-size="12" fill="#ffffff" textLength="35.8" lengthAdjust="spacingAndGlyphs" stroke="#ffffff" stroke-width="0.35">71,006</text>
<text x="1757.9" y="626.2" font-size="12" fill="#ffffff" textLength="42.0" lengthAdjust="spacingAndGlyphs" fill-opacity="0.8">21d 19h</text>
<path d="M1749 600V617H1701a2 2 0 0 1 -2 -2V602a2 2 0 0 1 2 -2Z" fill="#089981"/>
<text x="1703.1" y="612.8" font-size="12" fill="#ffffff" textLength="41.8" lengthAdjust="spacingAndGlyphs" stroke="#ffffff" stroke-width="0.3">BTCUSD</text>
<rect x="1750" y="816" width="37" height="16" fill="#2962ff"/>
<text x="1758.2" y="828.4" font-size="12" fill="#ffffff" textLength="23.3" lengthAdjust="spacingAndGlyphs" stroke="#ffffff" stroke-width="0.35">3.32</text>
<rect x="1753" y="31" width="60" height="26" rx="4" fill="#ffffff" stroke="#f0f0f0" stroke-width="1"/>
<text x="1762.3" y="48.8" font-size="12" fill="#131722" textLength="20.9" lengthAdjust="spacingAndGlyphs" stroke="#131722" stroke-width="0.25">USD</text>
<text x="65.5" y="850.3" font-size="12" fill="#131722" text-anchor="middle" textLength="16.9" lengthAdjust="spacingAndGlyphs" stroke="#131722" stroke-width="0.25">7월</text>
<text x="135.5" y="850.3" font-size="12" fill="#131722" text-anchor="middle" textLength="27.2" lengthAdjust="spacingAndGlyphs" stroke="#131722" stroke-width="0.6">2021</text>
<text x="206.5" y="850.3" font-size="12" fill="#131722" text-anchor="middle" textLength="16.9" lengthAdjust="spacingAndGlyphs" stroke="#131722" stroke-width="0.25">7월</text>
<text x="276.5" y="850.3" font-size="12" fill="#131722" text-anchor="middle" textLength="27.2" lengthAdjust="spacingAndGlyphs" stroke="#131722" stroke-width="0.6">2022</text>
<text x="346.5" y="850.3" font-size="12" fill="#131722" text-anchor="middle" textLength="16.9" lengthAdjust="spacingAndGlyphs" stroke="#131722" stroke-width="0.25">7월</text>
<text x="416.5" y="850.3" font-size="12" fill="#131722" text-anchor="middle" textLength="27.2" lengthAdjust="spacingAndGlyphs" stroke="#131722" stroke-width="0.6">2023</text>
<text x="487.5" y="850.3" font-size="12" fill="#131722" text-anchor="middle" textLength="16.9" lengthAdjust="spacingAndGlyphs" stroke="#131722" stroke-width="0.25">7월</text>
<text x="557.5" y="850.3" font-size="12" fill="#131722" text-anchor="middle" textLength="27.2" lengthAdjust="spacingAndGlyphs" stroke="#131722" stroke-width="0.6">2024</text>
<text x="627.5" y="850.3" font-size="12" fill="#131722" text-anchor="middle" textLength="16.9" lengthAdjust="spacingAndGlyphs" stroke="#131722" stroke-width="0.25">7월</text>
<text x="697.5" y="850.3" font-size="12" fill="#131722" text-anchor="middle" textLength="27.2" lengthAdjust="spacingAndGlyphs" stroke="#131722" stroke-width="0.6">2025</text>
<text x="768.5" y="850.3" font-size="12" fill="#131722" text-anchor="middle" textLength="16.9" lengthAdjust="spacingAndGlyphs" stroke="#131722" stroke-width="0.25">7월</text>
<text x="838.5" y="850.3" font-size="12" fill="#131722" text-anchor="middle" textLength="27.2" lengthAdjust="spacingAndGlyphs" stroke="#131722" stroke-width="0.6">2026</text>
<text x="908.5" y="850.3" font-size="12" fill="#131722" text-anchor="middle" textLength="16.9" lengthAdjust="spacingAndGlyphs" stroke="#131722" stroke-width="0.25">7월</text>
<text x="978.5" y="850.3" font-size="12" fill="#131722" text-anchor="middle" textLength="27.2" lengthAdjust="spacingAndGlyphs" stroke="#131722" stroke-width="0.6">2027</text>
<text x="1048.5" y="850.3" font-size="12" fill="#131722" text-anchor="middle" textLength="16.9" lengthAdjust="spacingAndGlyphs" stroke="#131722" stroke-width="0.25">7월</text>
<text x="1119.5" y="850.3" font-size="12" fill="#131722" text-anchor="middle" textLength="27.2" lengthAdjust="spacingAndGlyphs" stroke="#131722" stroke-width="0.6">2028</text>
<text x="1189.5" y="850.3" font-size="12" fill="#131722" text-anchor="middle" textLength="16.9" lengthAdjust="spacingAndGlyphs" stroke="#131722" stroke-width="0.25">7월</text>
<text x="1259.5" y="850.3" font-size="12" fill="#131722" text-anchor="middle" textLength="27.2" lengthAdjust="spacingAndGlyphs" stroke="#131722" stroke-width="0.6">2029</text>
<text x="1329.5" y="850.3" font-size="12" fill="#131722" text-anchor="middle" textLength="16.9" lengthAdjust="spacingAndGlyphs" stroke="#131722" stroke-width="0.25">7월</text>
<text x="1400.5" y="850.3" font-size="12" fill="#131722" text-anchor="middle" textLength="27.2" lengthAdjust="spacingAndGlyphs" stroke="#131722" stroke-width="0.6">2030</text>
<text x="1470.5" y="850.3" font-size="12" fill="#131722" text-anchor="middle" textLength="16.9" lengthAdjust="spacingAndGlyphs" stroke="#131722" stroke-width="0.25">7월</text>
<text x="1540.5" y="850.3" font-size="12" fill="#131722" text-anchor="middle" textLength="27.2" lengthAdjust="spacingAndGlyphs" stroke="#131722" stroke-width="0.6">2031</text>
<text x="1610.5" y="850.3" font-size="12" fill="#131722" text-anchor="middle" textLength="16.9" lengthAdjust="spacingAndGlyphs" stroke="#131722" stroke-width="0.25">7월</text>
<text x="1681.5" y="850.3" font-size="12" fill="#131722" text-anchor="middle" textLength="27.2" lengthAdjust="spacingAndGlyphs" stroke="#131722" stroke-width="0.6">2032</text>
<text x="1746" y="850.3" font-size="12" fill="#131722" text-anchor="middle" textLength="6.3" lengthAdjust="spacingAndGlyphs" stroke="#131722" stroke-width="0.25">7</text>
<rect x="347" y="832" width="92" height="24" rx="2" fill="#2962ff"/>
<text x="392.5" y="851" font-size="12" fill="#ffffff" text-anchor="middle" textLength="72.6" lengthAdjust="spacingAndGlyphs" font-weight="bold">화 2022-11-01</text>
<rect x="476" y="832" width="92" height="24" rx="2" fill="#2962ff"/>
<text x="521.5" y="851" font-size="12" fill="#ffffff" text-anchor="middle" textLength="72.6" lengthAdjust="spacingAndGlyphs" font-weight="bold">일 2023-10-01</text>
<rect x="546" y="832" width="92" height="24" rx="2" fill="#000000"/>
<text x="591.5" y="851" font-size="12" fill="#ffffff" text-anchor="middle" textLength="72.6" lengthAdjust="spacingAndGlyphs" font-weight="bold">월 2024-04-01</text>
<rect x="757" y="832" width="92" height="24" rx="2" fill="#f23645"/>
<text x="802.5" y="851" font-size="12" fill="#ffffff" text-anchor="middle" textLength="72.6" lengthAdjust="spacingAndGlyphs" font-weight="bold">수 2025-10-01</text>
<rect x="886" y="832" width="92" height="24" rx="2" fill="#2962ff"/>
<text x="931.5" y="851" font-size="12" fill="#ffffff" text-anchor="middle" textLength="72.6" lengthAdjust="spacingAndGlyphs" font-weight="bold">화 2026-09-01</text>
<rect x="1038" y="832" width="92" height="24" rx="2" fill="#2962ff"/>
<text x="1083.5" y="851" font-size="12" fill="#ffffff" text-anchor="middle" textLength="72.6" lengthAdjust="spacingAndGlyphs" font-weight="bold">금 2027-10-01</text>
<rect x="1108" y="832" width="92" height="24" rx="2" fill="#000000"/>
<text x="1153.5" y="851" font-size="12" fill="#ffffff" text-anchor="middle" textLength="72.6" lengthAdjust="spacingAndGlyphs" font-weight="bold">토 2028-04-01</text>
<rect x="1319" y="832" width="92" height="24" rx="2" fill="#f23645"/>
<text x="1364.5" y="851" font-size="12" fill="#ffffff" text-anchor="middle" textLength="72.6" lengthAdjust="spacingAndGlyphs" font-weight="bold">월 2029-10-01</text>
<path d="M10 27H1817V860H10Z M11 28V859H1816V28Z" fill="rgba(226,226,226,0.4)" fill-rule="evenodd" shape-rendering="crispEdges"/>
<text x="10" y="19.2" font-size="12.5" fill="#131722" textLength="386.5" lengthAdjust="spacingAndGlyphs" stroke="#131722" stroke-width="0.25">scmin1213이 TradingView.com와 함께 4월 09, 2026 14:48 UTC+9에 생성됨</text>
<text x="18.4" y="46.3" font-size="11.5" fill="#131722" textLength="42.9" lengthAdjust="spacingAndGlyphs" stroke="#131722" stroke-width="0.25">비트코인</text>
<text x="66.6" y="46.3" font-size="12" fill="#131722" stroke="#131722" stroke-width="0.25">/</text>
<text x="76.7" y="46.3" font-size="11.5" fill="#131722" textLength="19.9" lengthAdjust="spacingAndGlyphs" stroke="#131722" stroke-width="0.25">달러</text>
<text x="101.3" y="46.3" font-size="12" fill="#131722" font-weight="bold" stroke="#131722" stroke-width="0.25">·</text>
<text x="109.3" y="46.3" font-size="12" fill="#131722" textLength="5.3" lengthAdjust="spacingAndGlyphs" stroke="#131722" stroke-width="0.25">1</text>
<text x="115.2" y="46.3" font-size="11.5" fill="#131722" textLength="10.8" lengthAdjust="spacingAndGlyphs" stroke="#131722" stroke-width="0.25">달</text>
<text x="130.3" y="46.3" font-size="12" fill="#131722" font-weight="bold" stroke="#131722" stroke-width="0.25">·</text>
<text x="138.3" y="46.3" font-size="12" fill="#131722" textLength="47.5" lengthAdjust="spacingAndGlyphs" stroke="#131722" stroke-width="0.25">Bitstamp</text>
<text x="194" y="46.3" font-size="11.5" fill="#131722" textLength="9.4" lengthAdjust="spacingAndGlyphs" stroke="#131722" stroke-width="0.25">시</text>
<text x="204.2" y="46.3" font-size="12" fill="#089981" textLength="36" lengthAdjust="spacingAndGlyphs" stroke="#089981" stroke-width="0.25">68,215</text>
<text x="248" y="46.3" font-size="11.5" fill="#131722" textLength="9.4" lengthAdjust="spacingAndGlyphs" stroke="#131722" stroke-width="0.25">고</text>
<text x="258.4" y="46.3" font-size="12" fill="#089981" textLength="36" lengthAdjust="spacingAndGlyphs" stroke="#089981" stroke-width="0.25">72,865</text>
<text x="301.7" y="46.3" font-size="11.5" fill="#131722" textLength="9.4" lengthAdjust="spacingAndGlyphs" stroke="#131722" stroke-width="0.25">저</text>
<text x="312" y="46.3" font-size="12" fill="#089981" textLength="36" lengthAdjust="spacingAndGlyphs" stroke="#089981" stroke-width="0.25">65,696</text>
<text x="356" y="46.3" font-size="11.5" fill="#131722" textLength="9.4" lengthAdjust="spacingAndGlyphs" stroke="#131722" stroke-width="0.25">종</text>
<text x="366.5" y="46.3" font-size="12" fill="#089981" textLength="36" lengthAdjust="spacingAndGlyphs" stroke="#089981" stroke-width="0.25">71,006</text>
<text x="410.3" y="46.3" font-size="12" fill="#089981" textLength="84.5" lengthAdjust="spacingAndGlyphs" stroke="#089981" stroke-width="0.25">+2,791 (+4.09%)</text>
<g transform="translate(10,876)" fill="#131313"><path d="M14 6H2v6h6v9h6V6Zm12 15h-7l6-15h7l-6 15Zm-7-9a3 3 0 1 0 0-6 3 3 0 0 0 0 6Z"/></g>
<text x="49.3" y="897" font-size="20.6" fill="#131313" textLength="120.4" lengthAdjust="spacingAndGlyphs" font-weight="bold">TradingView</text>
</svg>
</body></html>
